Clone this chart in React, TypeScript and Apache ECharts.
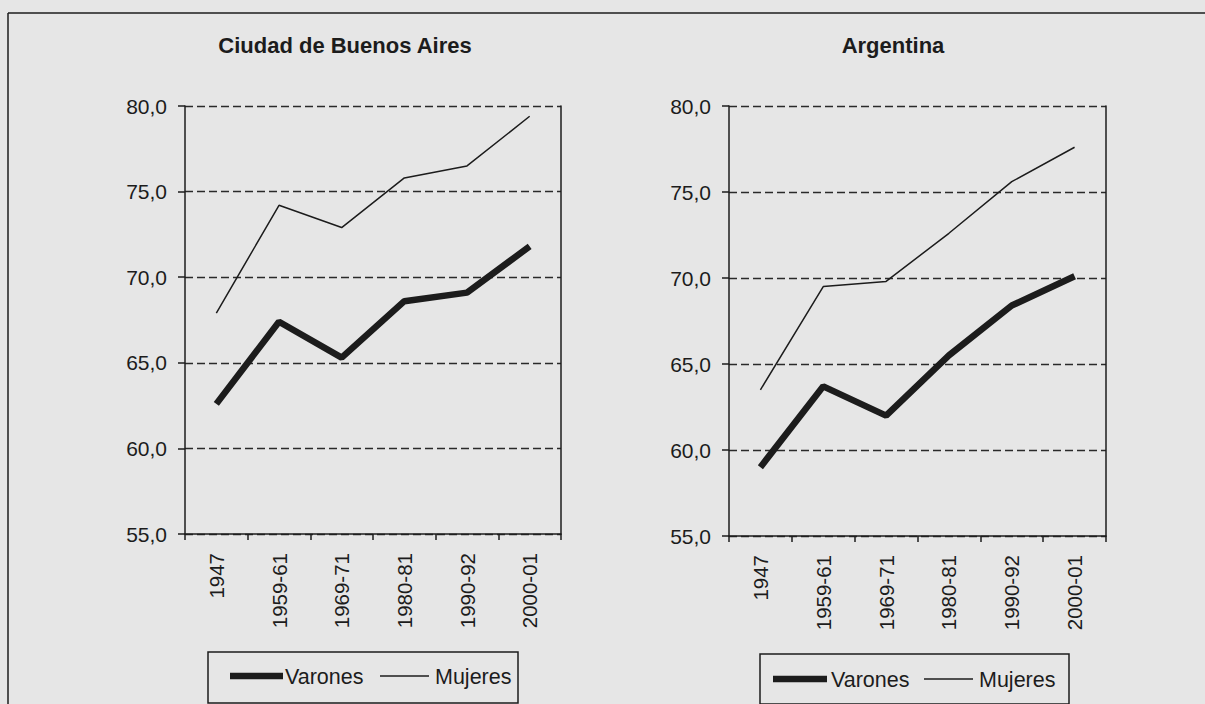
import React, { useEffect, useRef } from "react";
import * as echarts from "echarts";

const categories = ["1947", "1959-61", "1969-71", "1980-81", "1990-92", "2000-01"];
const cabaVarones = [62.6, 67.4, 65.3, 68.6, 69.1, 71.8];
const cabaMujeres = [67.9, 74.2, 72.9, 75.8, 76.5, 79.4];
const argVarones = [59.0, 63.7, 62.0, 65.5, 68.4, 70.1];
const argMujeres = [63.5, 69.5, 69.8, 72.6, 75.6, 77.6];
const chartTitles = ["Ciudad de Buenos Aires", "Argentina"];
const seriesNames = ["Varones", "Mujeres"];
const yMin = 55;
const yMax = 80;
const yStep = 5;

const INK = "#1c1c1c";
const FONT = "'Liberation Sans', Arial, sans-serif";

export default function App() {
  const ref = useRef<HTMLDivElement>(null);
  useEffect(() => {
    if (!ref.current) return;
    const chart = echarts.init(ref.current, null, { renderer: "svg" });

    const grids = [
      { left: 185, top: 106, width: 376, height: 428 },
      { left: 729, top: 106, width: 377, height: 430 },
    ];

    const xAxes = grids.map((_, i) => ({
      type: "category",
      gridIndex: i,
      data: categories,
      boundaryGap: true,
      axisLine: { show: true, lineStyle: { color: INK, width: 1.5 } },
      axisTick: { show: true, length: 6, alignWithLabel: false, lineStyle: { color: INK, width: 1.5 } },
      axisLabel: {
        rotate: 90,
        margin: 19,
        interval: 0,
        color: INK,
        fontSize: 20.5,
        fontFamily: FONT,
      },
      splitLine: { show: false },
    }));

    const yAxes: any[] = [];
    grids.forEach((_, i) => {
      yAxes.push({
        type: "value",
        gridIndex: i,
        min: yMin,
        max: yMax,
        interval: yStep,
        axisLine: { show: true, lineStyle: { color: INK, width: 1.5 } },
        axisTick: { show: true, length: 7, lineStyle: { color: INK, width: 1.5 } },
        axisLabel: {
          margin: 18,
          color: INK,
          fontSize: 21,
          fontFamily: FONT,
          formatter: (v: number) => v.toFixed(1).replace(".", ","),
        },
        splitLine: { show: true, lineStyle: { color: "#2a2a2a", width: 1.3, type: [8, 4] } },
      });
      yAxes.push({
        type: "value",
        gridIndex: i,
        position: "right",
        min: yMin,
        max: yMax,
        interval: yStep,
        axisLine: { show: true, lineStyle: { color: INK, width: 1.5 } },
        axisTick: { show: false },
        axisLabel: { show: false },
        splitLine: { show: false },
      });
    });

    const mk = (name: string, data: number[], idx: number, width: number) => ({
      type: "line",
      name,
      xAxisIndex: idx,
      yAxisIndex: idx * 2,
      data,
      showSymbol: false,
      symbol: "none",
      lineStyle: { color: INK, width },
      itemStyle: { color: INK },
      z: width > 3 ? 3 : 4,
    });

    const legendGraphic = (
      bx: number, by: number, bw: number, bh: number, cy: number,
      t1: number, t2: number, tx1: number, m1: number, m2: number, tx2: number
    ) => [
      { type: "rect", shape: { x: bx, y: by, width: bw, height: bh }, style: { fill: "none", stroke: INK, lineWidth: 1.5 } },
      { type: "line", shape: { x1: t1, y1: cy, x2: t2, y2: cy }, style: { stroke: INK, lineWidth: 6.5 } },
      { type: "text", x: tx1, y: cy + 1, style: { text: seriesNames[0], font: `21.5px ${FONT}`, fill: INK, textVerticalAlign: "middle", textAlign: "left" } },
      { type: "line", shape: { x1: m1, y1: cy, x2: m2, y2: cy }, style: { stroke: INK, lineWidth: 1.5 } },
      { type: "text", x: tx2, y: cy + 1, style: { text: seriesNames[1], font: `21.5px ${FONT}`, fill: INK, textVerticalAlign: "middle", textAlign: "left" } },
    ];

    chart.setOption({
      animation: false,
      backgroundColor: "#e6e6e6",
      grid: grids,
      xAxis: xAxes,
      yAxis: yAxes,
      series: [
        mk(seriesNames[0], cabaVarones, 0, 6.5),
        mk(seriesNames[1], cabaMujeres, 0, 1.5),
        mk(seriesNames[0], argVarones, 1, 6.5),
        mk(seriesNames[1], argMujeres, 1, 1.5),
      ],
      graphic: [
        { type: "line", shape: { x1: 8, y1: 13, x2: 1205, y2: 13 }, style: { stroke: INK, lineWidth: 1.5 } },
        { type: "line", shape: { x1: 8, y1: 13, x2: 8, y2: 704 }, style: { stroke: INK, lineWidth: 1.5 } },
        { type: "text", x: 345, y: 45, style: { text: chartTitles[0], font: `bold 22px ${FONT}`, fill: INK, textAlign: "center", textVerticalAlign: "middle" } },
        { type: "text", x: 893, y: 45, style: { text: chartTitles[1], font: `bold 22px ${FONT}`, fill: INK, textAlign: "center", textVerticalAlign: "middle" } },
        ...legendGraphic(208, 652, 310, 51, 676, 230, 283, 285, 380, 429, 435),
        ...legendGraphic(760, 654, 309, 50, 679, 773, 827, 831, 924, 973, 979),
      ],
    });
    return () => chart.dispose();
  }, []);
  return (
    <div
      ref={ref}
      style={{ position: "absolute", left: 0, top: 0, width: 1205, height: 704, background: "#e6e6e6", overflow: "hidden" }}
    />
  );
}
